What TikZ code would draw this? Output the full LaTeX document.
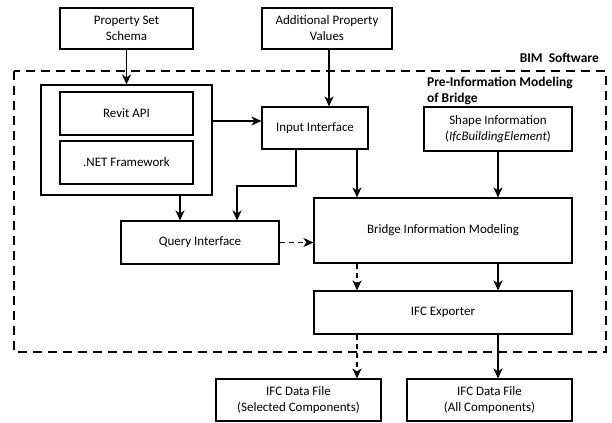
\documentclass[tikz,border=0pt]{standalone}
\usepackage{fontspec}
\setmainfont{Carlito}
\usetikzlibrary{arrows.meta}
\begin{document}
\begin{tikzpicture}[x=1bp,y=-1bp,
  font=\fontsize{13}{16}\selectfont,
  box/.style={draw, line width=1.1bp, inner sep=0pt, align=center},
  arr/.style={line width=1.8bp, -{Stealth[length=10bp,width=9bp,inset=3bp]}},
  darr/.style={arr, dash pattern=on 5bp off 4bp},
  frame/.style={line width=2.6bp, dash pattern=on 9bp off 6bp},
  lbl/.style={font=\fontsize{13.5}{16}\selectfont\bfseries, inner sep=0pt}]
\useasboundingbox (0,0) rectangle (612,422);

% BIM software boundary
\draw[frame] (14,71) rectangle (606,352);
\node[lbl, anchor=east] (bimsw) at (599,58) {BIM\ \ Software};
\node[lbl, anchor=north west, align=left] (preinfo) at (427,77) {Pre-Information Modeling\\of Bridge};

% inputs
\node[box, minimum width=133bp, minimum height=41bp] (pss) at (126.5,28.5) {Property Set\\Schema};
\node[box, minimum width=130bp, minimum height=41bp] (apv) at (327,28.5) {Additional Property\\Values};

% Revit platform
\node[box, minimum width=171bp, minimum height=110bp] (revit) at (126.5,140) {};
\node[box, minimum width=133bp, minimum height=43bp] (api) at (126.5,113.5) {Revit API};
\node[box, minimum width=133bp, minimum height=43bp] (net) at (126.5,162.5) {.NET Framework};

% modelling blocks
\node[box, minimum width=106bp, minimum height=42bp] (input) at (315,128) {Input Interface};
\node[box, minimum width=148bp, minimum height=44bp] (shape) at (498,129) {Shape Information\\(\textit{IfcBuildingElement})};
\node[box, minimum width=158bp, minimum height=43bp] (query) at (200,242.5) {Query Interface};
\node[box, minimum width=258bp, minimum height=65bp] (bim) at (443,230.5) {Bridge Information Modeling};
\node[box, minimum width=258bp, minimum height=43bp] (exp) at (443,312.5) {IFC Exporter};

% outputs
\node[box, minimum width=165bp, minimum height=42bp] (sel) at (298.5,400) {IFC Data File\\(Selected Components)};
\node[box, minimum width=165bp, minimum height=42bp] (all) at (489.5,400) {IFC Data File\\(All Components)};

% guide columns and rows for the connectors
\coordinate (colL) at (357,0);
\coordinate (colR) at (498,0);
\coordinate (colQ) at (180,0);
\coordinate (colJ) at (237,0);
\coordinate (colI) at (296,0);
\coordinate (colA) at (329,0);
\coordinate (rowR) at (0,121);
\coordinate (rowJ) at (0,186);

% connectors
\draw[arr] (pss.south) -- (revit.north -| pss.south);
\draw[arr] (apv.south -| colA) -- (input.north -| colA);
\draw[arr] (revit.east |- rowR) -- (input.west |- rowR);
\draw[arr] (input.south -| colL) -- (bim.north -| colL);
\draw[arr] (shape.south) -- (bim.north -| shape.south);
\draw[arr] (revit.south -| colQ) -- (query.north -| colQ);
\draw[arr] (input.south -| colI) -- (colI |- rowJ) -- (colJ |- rowJ) -- (query.north -| colJ);
\draw[darr] (query.east) -- (bim.west |- query.east);
\draw[darr] (bim.south -| colL) -- (exp.north -| colL);
\draw[arr] (bim.south -| colR) -- (exp.north -| colR);
\draw[darr] (exp.south -| colL) -- (sel.north -| colL);
\draw[arr] (exp.south -| colR) -- (all.north -| colR);
\end{tikzpicture}
\end{document}
